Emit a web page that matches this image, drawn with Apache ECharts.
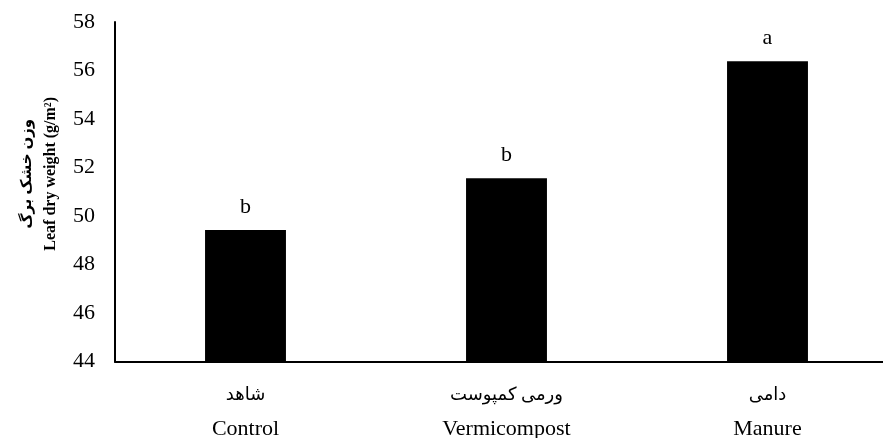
<!DOCTYPE html>
<html>
<head>
<meta charset="utf-8">
<script src="https://cdn.jsdelivr.net/npm/echarts@6/dist/echarts.min.js"></script>
<style>html,body{margin:0;padding:0;background:#fff}#c{width:883px;height:438px}</style>
</head>
<body>
<div id="c"></div>
<script>
const categoriesFa = ['شاهد', 'ورمی کمپوست', 'دامی'];
const categoriesEn = ['Control', 'Vermicompost', 'Manure'];
const values = [49.43, 51.56, 56.38];
const letters = ['b', 'b', 'a'];
const yTicks = [44, 46, 48, 50, 52, 54, 56, 58];
const yNameFa = 'وزن خشک برگ';
const yNameEn = 'Leaf dry weight (g/m²)';

const font = '"Liberation Serif", "Times New Roman", "DejaVu Sans", serif';
const chart = echarts.init(document.getElementById('c'), null, {renderer: 'canvas'});
chart.setOption({
  animation: false,
  backgroundColor: '#fff',
  grid: {left: 115, top: 22, height: 339.7, width: 783, containLabel: false, outerBoundsMode: 'none'},
  xAxis: {
    type: 'category',
    data: categoriesEn,
    axisLine: {lineStyle: {color: '#000', width: 2}},
    axisTick: {show: false},
    axisLabel: {
      margin: 17,
      interval: 0,
      formatter: (v, i) => '{fa|' + categoriesFa[i] + '}\n{en|' + categoriesEn[i] + '}',
      rich: {
        fa: {fontFamily: font, fontSize: 18, color: '#000', lineHeight: 34},
        en: {fontFamily: font, fontSize: 22, color: '#000', lineHeight: 34}
      }
    }
  },
  yAxis: {
    type: 'value',
    min: yTicks[0], max: yTicks[yTicks.length - 1], interval: 2,
    axisLine: {show: true, lineStyle: {color: '#000', width: 2}},
    axisTick: {show: false},
    splitLine: {show: false},
    axisLabel: {fontFamily: font, fontSize: 22, color: '#000', margin: 20},
    name: '{fa|' + yNameFa + '}\n{en|' + yNameEn + '}',
    nameLocation: 'middle',
    nameGap: 52,
    nameTextStyle: {
      padding: [0, 0, 0, 36],
      rich: {
        fa: {fontFamily: font, fontSize: 15, fontWeight: 'bold', color: '#000', lineHeight: 24},
        en: {fontFamily: font, fontSize: 16, fontWeight: 'bold', color: '#000', lineHeight: 24}
      }
    }
  },
  series: [{
    type: 'bar',
    data: values,
    barWidth: '31%',
    itemStyle: {color: '#000'},
    label: {
      show: true, position: 'top', distance: 12,
      formatter: p => letters[p.dataIndex],
      fontFamily: font, fontSize: 22, color: '#000'
    }
  }]
});
</script>
</body>
</html>
